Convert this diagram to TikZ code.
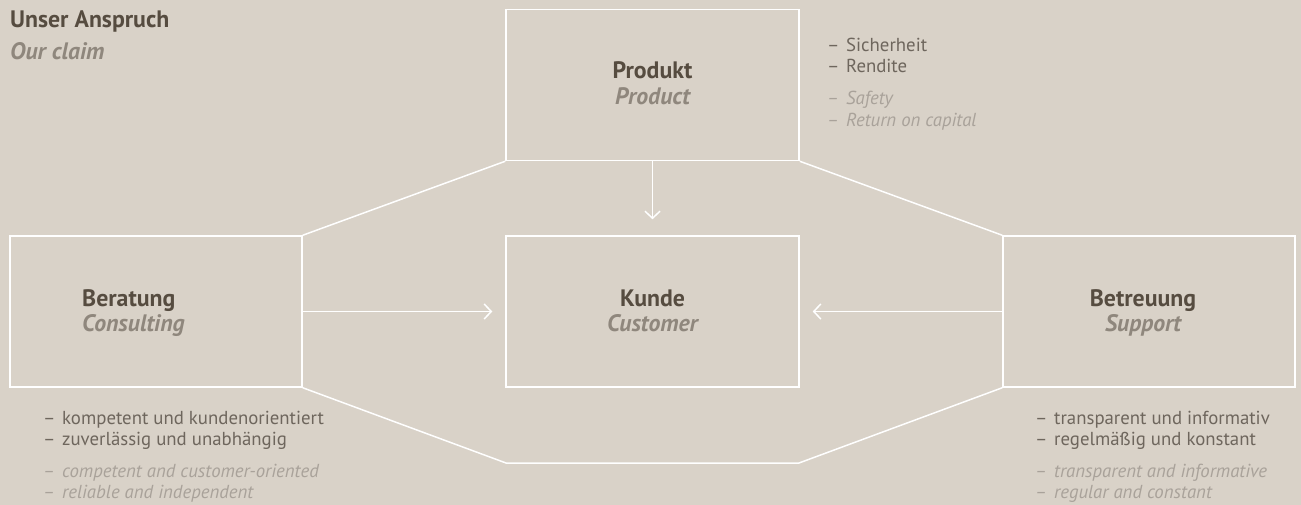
\documentclass[tikz,border=0pt]{standalone}
\usepackage{fontspec}
\setmainfont{PT Sans}
\usetikzlibrary{arrows.meta}
\definecolor{bg}{HTML}{D9D2C8}
\definecolor{dark}{HTML}{564C40}
\definecolor{greyb}{HTML}{8F877D}
\definecolor{listde}{HTML}{6E665D}
\definecolor{listen}{HTML}{A9A29A}
\tikzset{
  box/.style={draw=white, line width=1.5pt, minimum width=293pt, minimum height=151pt, inner sep=0pt},
  conn/.style={draw=white, line width=1.5pt},
  arr/.style={conn, -{Straight Barb[length=7pt,width=15pt,line width=1.5pt]}},
  head/.style={anchor=base, inner sep=0pt, text=dark, font=\fontsize{23.8}{28}\selectfont\bfseries},
  sub/.style={anchor=base, inner sep=0pt, text=greyb, font=\fontsize{23.8}{28}\selectfont\bfseries\itshape},
  de/.style={anchor=base west, inner sep=0pt, text=listde, font=\fontsize{18.8}{22}\selectfont},
  en/.style={anchor=base west, inner sep=0pt, text=listen, font=\fontsize{18.8}{22}\selectfont\itshape}
}
\begin{document}
\begin{tikzpicture}[x=1pt,y=-1pt]
\fill[bg] (0,0) rectangle (1301,505);
\useasboundingbox (0,0) rectangle (1301,505);

% title
\node[head, anchor=base west] (t1) at (10,28) {Unser Anspruch};
\node[sub, anchor=base west] (t2) at (10,60) {Our claim};

% boxes
\node[box] (prod) at (652.5,85) {};
\node[box] (kunde) at (652.5,311.5) {};
\node[box, minimum width=292pt] (ber) at (156,311.5) {};
\node[box, minimum width=292pt] (bet) at (1149,311.5) {};

% outline
\coordinate (b1) at (506,463);
\coordinate (b2) at (799,463);
\draw[conn] (ber.north east) -- (prod.south west);
\draw[conn] (prod.south east) -- (bet.north west);
\draw[conn] (ber.south east) -- (b1) -- (b2) -- (bet.south west);

% arrows
\draw[arr, shorten >=16pt] (prod.south) -- (kunde.north);
\draw[arr, shorten >=13pt] (ber.east) -- (kunde.west);
\draw[arr, shorten >=13pt] (bet.west) -- (kunde.east);

% labels
\node[head] (l1) at (652.5,79) {Produkt};
\node[sub] (l2) at (652.5,105) {Product};
\node[head] (l3) at (652.5,306) {Kunde};
\node[sub] (l4) at (652.5,331) {Customer};
\node[head, anchor=base west] (l5) at (82,306) {Beratung};
\node[sub, anchor=base west] (l6) at (82,331) {Consulting};
\node[head] (l7) at (1143,306) {Betreuung};
\node[sub] (l8) at (1143,331) {Support};

% Produkt list
\node[de] (p1d) at (827,52) {–}; \node[de] (p1) at (846,52) {Sicherheit};
\node[de] (p2d) at (827,73) {–}; \node[de] (p2) at (846,73) {Rendite};
\node[en] (p3d) at (827,105) {–}; \node[en] (p3) at (846,105) {Safety};
\node[en] (p4d) at (827,127) {–}; \node[en] (p4) at (846,127) {Return on capital};

% Beratung list
\node[de] (c1d) at (43,424) {–}; \node[de] (c1) at (62,424) {kompetent und kundenorientiert};
\node[de] (c2d) at (43,445) {–}; \node[de] (c2) at (62,445) {zuverlässig und unabhängig};
\node[en] (c3d) at (43,477) {–}; \node[en] (c3) at (62,477) {competent and customer-oriented};
\node[en] (c4d) at (43,498) {–}; \node[en] (c4) at (62,498) {reliable and independent};

% Betreuung list
\node[de] (s1d) at (1035,424) {–}; \node[de] (s1) at (1054,424) {transparent und informativ};
\node[de] (s2d) at (1035,445) {–}; \node[de] (s2) at (1054,445) {regelmäßig und konstant};
\node[en] (s3d) at (1035,477) {–}; \node[en] (s3) at (1054,477) {transparent and informative};
\node[en] (s4d) at (1035,498) {–}; \node[en] (s4) at (1054,498) {regular and constant};
\end{tikzpicture}
\end{document}
